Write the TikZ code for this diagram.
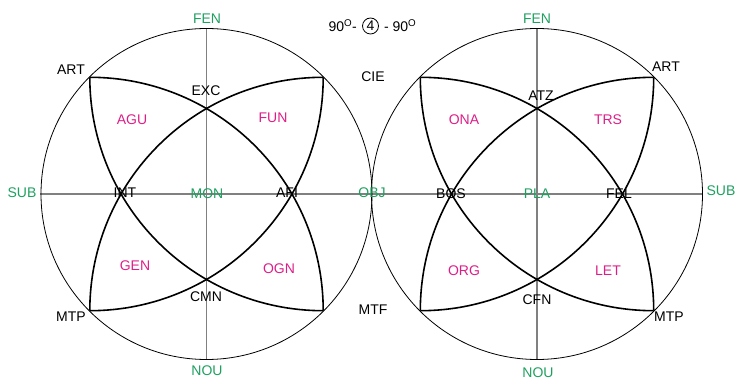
\documentclass[tikz,border=0pt]{standalone}
\usepackage{fontspec}
\setmainfont{Liberation Sans}
\definecolor{axgreen}{RGB}{30,160,95}
\definecolor{pmag}{RGB}{222,30,135}
\begin{document}
\begin{tikzpicture}[x=1pt,y=1pt,
  lbl/.style={inner sep=0pt, font=\fontsize{14}{16}\selectfont},
  axl/.style={lbl, text=axgreen},
  zone/.style={lbl, text=pmag},
  axisline/.style={draw=black!50, line width=1.4pt},
  outer/.style={draw=black, line width=0.8pt},
  petal/.style={draw=black, line width=1.6pt}]
\useasboundingbox (0,0) rectangle (735,380);
% centres
\coordinate (L) at (206.5,186);
\coordinate (R) at (537,186);
% axes
\coordinate (Lw) at (40,186);
\coordinate (Re) at (702,186);
\coordinate (Lt) at (206.5,351.5);
\coordinate (Lb) at (206.5,20.5);
\coordinate (Rt) at (537,351.5);
\coordinate (Rb) at (537,20.5);
\draw[axisline] (Lw) -- (Re);
\draw[axisline] (Lt) -- (Lb);
\draw[axisline] (Rt) -- (Rb);
% circles
\draw[outer] (L) circle[radius=165.5];
\draw[outer] (R) circle[radius=165.5];
% petals left
\begin{scope}[shift={(L)}]
  \coordinate (LTL) at (-116.7,116.7);
  \coordinate (LTR) at (116.7,116.7);
  \draw[petal] (LTL) arc[start angle=90, end angle=0, radius=233.4];
  \draw[petal] (LTR) arc[start angle=90, end angle=180, radius=233.4];
  \draw[petal] (LTR) arc[start angle=0, end angle=-90, radius=233.4];
  \draw[petal] (LTL) arc[start angle=180, end angle=270, radius=233.4];
\end{scope}
\begin{scope}[shift={(R)}]
  \coordinate (RTL) at (-116.7,116.7);
  \coordinate (RTR) at (116.7,116.7);
  \draw[petal] (RTL) arc[start angle=90, end angle=0, radius=233.4];
  \draw[petal] (RTR) arc[start angle=90, end angle=180, radius=233.4];
  \draw[petal] (RTR) arc[start angle=0, end angle=-90, radius=233.4];
  \draw[petal] (RTL) arc[start angle=180, end angle=270, radius=233.4];
\end{scope}
% header
\node[lbl, circle, draw, line width=0.8pt, minimum size=16pt, inner sep=0pt] (four) at (370.5,354) {4};
\node[lbl, anchor=east] (hl) at ([xshift=-5pt]four.west) {90\textsuperscript{O}-};
\node[lbl, anchor=west] (hr) at ([xshift=5pt]four.east) {- 90\textsuperscript{O}};
% left labels
\node[axl] (lfen) at (207,361) {FEN};
\node[lbl] (lart) at (71,310) {ART};
\node[lbl] (exc) at (206,289) {EXC};
\node[zone] (agu) at (132,260) {AGU};
\node[zone] (fun) at (273,262) {FUN};
\node[lbl] (cie) at (373,303) {CIE};
\node[axl] (lsub) at (22,187) {SUB};
\node[lbl] (int) at (125,187) {INT};
\node[axl] (mon) at (207,186) {MON};
\node[lbl] (afi) at (287,187) {AFI};
\node[axl] (obj) at (372,187) {OBJ};
\node[zone] (gen) at (135,114) {GEN};
\node[zone] (ogn) at (279,111) {OGN};
\node[lbl] (cmn) at (206,83) {CMN};
\node[lbl] (lmtp) at (71,63) {MTP};
\node[lbl] (mtf) at (373,70) {MTF};
\node[axl] (lnou) at (207,9) {NOU};
% right labels
\node[axl] (rfen) at (537,361) {FEN};
\node[lbl] (rart) at (666,313) {ART};
\node[lbl] (atz) at (541,284) {ATZ};
\node[zone] (ona) at (464,260) {ONA};
\node[zone] (trs) at (608,260) {TRS};
\node[axl] (rsub) at (721,189) {SUB};
\node[lbl] (bos) at (451,186) {BOS};
\node[axl] (pla) at (537,186) {PLA};
\node[lbl] (fel) at (619,186) {FEL};
\node[zone] (org) at (464,109) {ORG};
\node[zone] (let) at (608,109) {LET};
\node[lbl] (cfn) at (537,80) {CFN};
\node[lbl] (rmtp) at (669,63) {MTP};
\node[axl] (rnou) at (538,7) {NOU};
\end{tikzpicture}
\end{document}
